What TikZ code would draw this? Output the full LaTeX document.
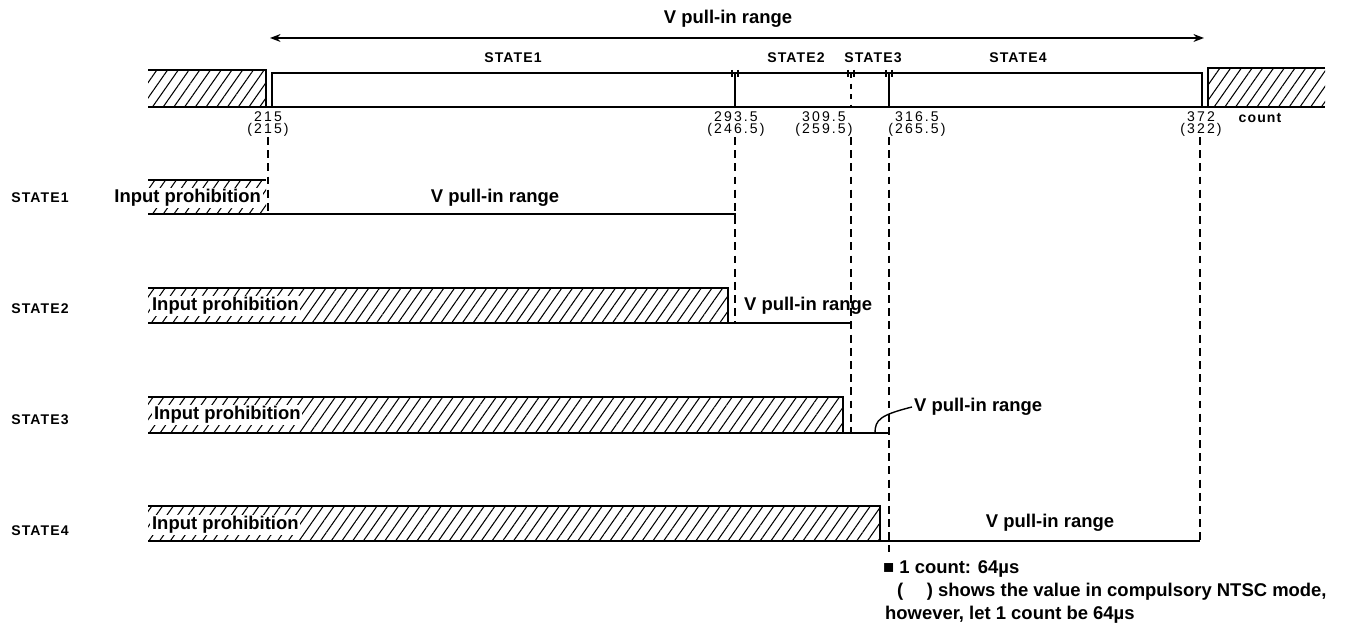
\documentclass[tikz,border=0pt]{standalone}
\usepackage{fontspec}
\setmainfont{Liberation Sans}
\newfontfamily\tagfont[LetterSpace=8]{Liberation Sans}
\newfontfamily\valfont[LetterSpace=15]{Liberation Sans}
\usetikzlibrary{arrows.meta,patterns.meta}

\tikzset{
  hatch/.style={pattern={Lines[angle=55,distance=5pt,line width=0.6pt]}},
  sig/.style={line width=1.3pt},
  guide/.style={dash pattern=on 4.5pt off 3pt, line width=0.8pt},
  lbl/.style={font=\fontsize{10.5}{12}\selectfont\bfseries, inner sep=1pt},
  tag/.style={font=\tagfont\fontsize{8}{9}\selectfont\bfseries, inner sep=0pt},
  val/.style={font=\valfont\fontsize{8}{7}\selectfont, align=center, inner sep=0pt},
}

\begin{document}
\begin{tikzpicture}[x=0.02cm, y=-0.02cm, >=Stealth]
  \useasboundingbox[fill=white] (0,0) rectangle (1347,631);

  % top bar
  \node[lbl] (vtop) at (728,19) {V pull-in range};
  \coordinate (arL) at (270,38);
  \coordinate (arR) at (1204,38);
  \draw[{Stealth[length=6pt]}-{Stealth[length=6pt]}, line width=0.9pt] (arL) -- (arR);
  \fill[hatch] (148,70) rectangle (266,106);
  \draw[sig] (148,70) -- (266,70) -- (266,106);
  \fill[hatch] (1208,68) rectangle (1325,106);
  \draw[sig] (1325,68) -- (1208,68) -- (1208,106);
  \draw[sig] (272,106) -- (272,73) -- (1202,73) -- (1202,106);
  \draw[sig] (148,107) -- (1325,107);
  \draw[line width=0.9pt] (735,73) -- (735,107);
  \draw[line width=0.6pt, dashed] (851,73) -- (851,107);
  \draw[line width=0.9pt] (889,73) -- (889,107);
  \draw[line width=0.6pt] (732,70) -- (732,77) (738,70) -- (738,77)
    (848,70) -- (848,77) (854,70) -- (854,77) (886,70) -- (886,77) (892,70) -- (892,77);
  \node[tag] (s1) at (513,58) {STATE1};
  \node[tag] (s2) at (796,58) {STATE2};
  \node[tag] (s3) at (873,58) {STATE3};
  \node[tag] (s4) at (1018,58) {STATE4};

  % count values
  \node[val] (c215) at (268,124) {215\\(215)};
  \node[val] (c293) at (736,124) {293.5\\(246.5)};
  \node[val] (c309) at (824,124) {309.5\\(259.5)};
  \node[val] (c316) at (917,124) {316.5\\(265.5)};
  \node[val] (c372) at (1201,124) {372\\(322)};
  \node[tag] (cnt) at (1260,118) {count};

  % row labels
  \node[tag] (r1) at (40,198) {STATE1};
  \node[tag] (r2) at (40,309) {STATE2};
  \node[tag] (r3) at (40,420) {STATE3};
  \node[tag] (r4) at (40,531) {STATE4};

  % STATE1
  \fill[hatch] (148,180) rectangle (266,214);
  \draw[sig] (148,180) -- (266,180);
  \node[lbl, fill=white, anchor=east] (ip1) at (263,198) {Input prohibition};
  \draw[sig] (148,214) -- (735,214) -- (735,219);
  \node[lbl] (vp1) at (495,198) {V pull-in range};

  % STATE2
  \fill[hatch] (148,288) rectangle (728,323);
  \draw[sig] (148,288) -- (728,288) -- (728,323);
  \draw[sig] (148,323) -- (851,323);
  \node[lbl, fill=white, anchor=west] (ip2) at (150,306) {Input prohibition};
  \node[lbl, anchor=west] (vp2) at (742,306) {V pull-in range};

  % STATE3
  \fill[hatch] (148,397) rectangle (843,433);
  \draw[sig] (148,397) -- (843,397) -- (843,433);
  \draw[sig] (148,433) -- (889,433);
  \node[lbl, fill=white, anchor=west] (ip3) at (152,415) {Input prohibition};
  \node[lbl, anchor=west] (vp3) at (912,407) {V pull-in range};
  \coordinate (lead3) at (875,433);
  \draw[line width=0.8pt] (lead3) .. controls (875,420) and (880,415) .. (vp3.west);

  % STATE4
  \fill[hatch] (148,506) rectangle (880,541);
  \draw[sig] (148,506) -- (880,506) -- (880,541);
  \draw[sig] (148,541) -- (1200,541);
  \node[lbl, fill=white, anchor=west] (ip4) at (150,525) {Input prohibition};
  \node[lbl] (vp4) at (1050,523) {V pull-in range};

  % guide lines
  \coordinate (e1) at (268,214);
  \coordinate (e2) at (735,323);
  \coordinate (e3) at (851,433);
  \coordinate (e4) at (889,552);
  \coordinate (e5) at (1200,541);
  \draw[guide] (268,137) -- (e1);
  \draw[guide] (735,137) -- (e2);
  \draw[guide] (851,137) -- (e3);
  \draw[guide] (889,137) -- (e4);
  \draw[guide] (1200,137) -- (e5);

  % note
  \node[lbl, anchor=west] (n1) at (881,569) {■ 1 count: 64µs};
  \node[lbl, anchor=west] (n2) at (895,592) {(\quad\ ) shows the value in compulsory NTSC mode,};
  \node[lbl, anchor=west] (n3) at (883,615) {however, let 1 count be 64µs};
\end{tikzpicture}
\end{document}
